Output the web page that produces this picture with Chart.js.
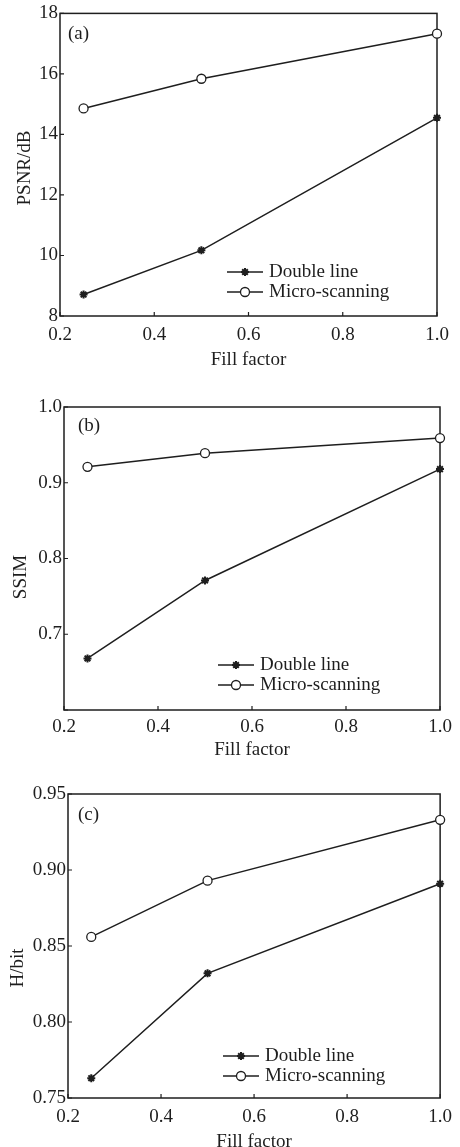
<!DOCTYPE html>
<html>
<head>
<meta charset="utf-8">
<script src="https://cdn.jsdelivr.net/npm/chart.js@4.4.1/dist/chart.umd.min.js"></script>
<style>
  html, body { margin: 0; padding: 0; background: #fff; overflow: hidden; }
  .panel { position: absolute; left: 0; width: 460px; }
</style>
</head>
<body>
<div class="panel" style="top:0;height:382px"><canvas id="chartA"></canvas></div>
<div class="panel" style="top:382px;height:382px"><canvas id="chartB"></canvas></div>
<div class="panel" style="top:764px;height:390px"><canvas id="chartC"></canvas></div>
<script>
const fillFactor = [0.25, 0.5, 1.0];
const seriesNames = ['Double line', 'Micro-scanning'];

const psnrDouble = [8.71, 10.17, 14.55];
const psnrMicro = [14.86, 15.84, 17.33];

const ssimDouble = [0.668, 0.771, 0.918];
const ssimMicro = [0.921, 0.939, 0.959];

const entropyDouble = [0.763, 0.832, 0.891];
const entropyMicro = [0.856, 0.893, 0.933];

const INK = '#1e1e1e';
const FONT = '"Liberation Serif", "Times New Roman", serif';

const toPoints = ys => fillFactor.map((x, i) => ({ x: x, y: ys[i] }));

function drawStar(ctx, x, y, r) {
  ctx.beginPath();
  ctx.moveTo(x - r, y); ctx.lineTo(x + r, y);
  ctx.moveTo(x, y - r); ctx.lineTo(x, y + r);
  const d = r * Math.SQRT1_2;
  ctx.moveTo(x - d, y - d); ctx.lineTo(x + d, y + d);
  ctx.moveTo(x - d, y + d); ctx.lineTo(x + d, y - d);
  ctx.stroke();
}

// box frame, inward ticks, panel tag, y title and the little legend
const paperPlugin = {
  id: 'paper',
  beforeDatasetsDraw(chart, args, opts) {
    const { ctx, chartArea: a, scales } = chart;
    ctx.save();
    ctx.strokeStyle = INK;
    ctx.lineWidth = 1.5;
    ctx.strokeRect(a.left, a.top, a.right - a.left, a.bottom - a.top);
    ctx.lineWidth = 1.2;
    ctx.beginPath();
    scales.x.ticks.forEach(t => {
      const px = scales.x.getPixelForValue(t.value);
      ctx.moveTo(px, a.bottom);
      ctx.lineTo(px, a.bottom - 4);
    });
    scales.y.ticks.forEach(t => {
      const py = scales.y.getPixelForValue(t.value);
      ctx.moveTo(a.left, py);
      ctx.lineTo(a.left + 4, py);
    });
    ctx.stroke();
    ctx.restore();
  },
  afterDraw(chart, args, opts) {
    const { ctx } = chart;
    ctx.save();
    ctx.fillStyle = INK;
    ctx.strokeStyle = INK;
    ctx.font = '19px ' + FONT;
    ctx.textBaseline = 'middle';
    ctx.fillText(opts.panel, opts.panelX, opts.panelY);

    ctx.save();
    ctx.translate(opts.titleX, opts.titleY);
    ctx.rotate(-Math.PI / 2);
    ctx.textAlign = 'center';
    ctx.fillText(opts.yTitle, 0, 0);
    ctx.restore();

    chart.data.datasets.forEach((ds, i) => {
      const y = opts.legendY + i * 20;
      const x0 = opts.legendX, x1 = opts.legendX + 36;
      ctx.lineWidth = 1.5;
      ctx.beginPath();
      ctx.moveTo(x0, y);
      ctx.lineTo(x1, y);
      ctx.stroke();
      const mx = (x0 + x1) / 2;
      if (ds.pointStyle === 'star') {
        ctx.lineWidth = 2;
        drawStar(ctx, mx, y, 4);
      } else {
        ctx.lineWidth = 1.3;
        ctx.fillStyle = '#fff';
        ctx.beginPath();
        ctx.arc(mx, y, 4.5, 0, Math.PI * 2);
        ctx.fill();
        ctx.stroke();
        ctx.fillStyle = INK;
      }
      ctx.fillText(ds.label, x1 + 6, y);
    });
    ctx.restore();
  }
};

function makeChart(id, cfg) {
  const tickFont = { family: FONT, size: 19 };
  return new Chart(document.getElementById(id), {
    type: 'line',
    data: {
      datasets: [
        {
          label: seriesNames[0],
          data: toPoints(cfg.double),
          borderColor: INK,
          borderWidth: 1.5,
          pointStyle: 'star',
          pointRadius: 4,
          pointBorderWidth: 2,
          pointBorderColor: INK,
          pointBackgroundColor: INK,
          clip: false
        },
        {
          label: seriesNames[1],
          data: toPoints(cfg.micro),
          borderColor: INK,
          borderWidth: 1.5,
          pointStyle: 'circle',
          pointRadius: 4.5,
          pointBorderWidth: 1.3,
          pointBorderColor: INK,
          pointBackgroundColor: '#fff',
          clip: false
        }
      ]
    },
    options: {
      responsive: true,
      maintainAspectRatio: false,
      animation: false,
      layout: { padding: { left: 0, top: cfg.top, right: 460 - cfg.right, bottom: 0 } },
      plugins: {
        legend: { display: false },
        tooltip: { enabled: false },
        paper: cfg.paper
      },
      scales: {
        x: {
          type: 'linear',
          min: 0.2,
          max: 1.0,
          grid: { display: false, drawTicks: false },
          border: { display: false },
          ticks: {
            stepSize: 0.2,
            color: INK,
            font: tickFont,
            padding: cfg.xTickPad,
            maxRotation: 0,
            callback: v => v.toFixed(1)
          },
          title: {
            display: true,
            text: 'Fill factor',
            color: INK,
            font: tickFont,
            padding: { top: 0, bottom: cfg.xTitlePad }
          },
          afterFit: s => { s.height = cfg.canvasH - cfg.bottom; }
        },
        y: {
          min: cfg.yMin,
          max: cfg.yMax,
          grid: { display: false, drawTicks: false },
          border: { display: false },
          ticks: {
            stepSize: cfg.yStep,
            color: INK,
            font: tickFont,
            padding: 2,
            callback: cfg.yLabel
          },
          afterFit: s => { s.width = cfg.left; }
        }
      }
    },
    plugins: [paperPlugin]
  });
}

makeChart('chartA', {
  double: psnrDouble, micro: psnrMicro,
  yMin: 8, yMax: 18, yStep: 2,
  yLabel: v => String(Math.round(v)),
  canvasH: 382, left: 60, right: 437, top: 13, bottom: 316,
  xTickPad: 8, xTitlePad: 10.6,
  paper: { panel: '(a)', panelX: 68, panelY: 34, yTitle: 'PSNR/dB', titleX: 25, titleY: 168, legendX: 227, legendY: 272 }
});

makeChart('chartB', {
  double: ssimDouble, micro: ssimMicro,
  yMin: 0.6, yMax: 1.0, yStep: 0.1,
  yLabel: v => (v < 0.65 ? '' : v.toFixed(1)),
  canvasH: 382, left: 64, right: 440, top: 25, bottom: 328,
  xTickPad: 6, xTitlePad: 2.6,
  paper: { panel: '(b)', panelX: 78, panelY: 44, yTitle: 'SSIM', titleX: 21, titleY: 195, legendX: 218, legendY: 283 }
});

makeChart('chartC', {
  double: entropyDouble, micro: entropyMicro,
  yMin: 0.75, yMax: 0.95, yStep: 0.05,
  yLabel: v => v.toFixed(2),
  canvasH: 390, left: 68, right: 443, top: 30, bottom: 334,
  xTickPad: 8, xTitlePad: 0.6,
  paper: { panel: '(c)', panelX: 78, panelY: 51, yTitle: 'H/bit', titleX: 18, titleY: 204, legendX: 223, legendY: 292 }
});
</script>
</body>
</html>
